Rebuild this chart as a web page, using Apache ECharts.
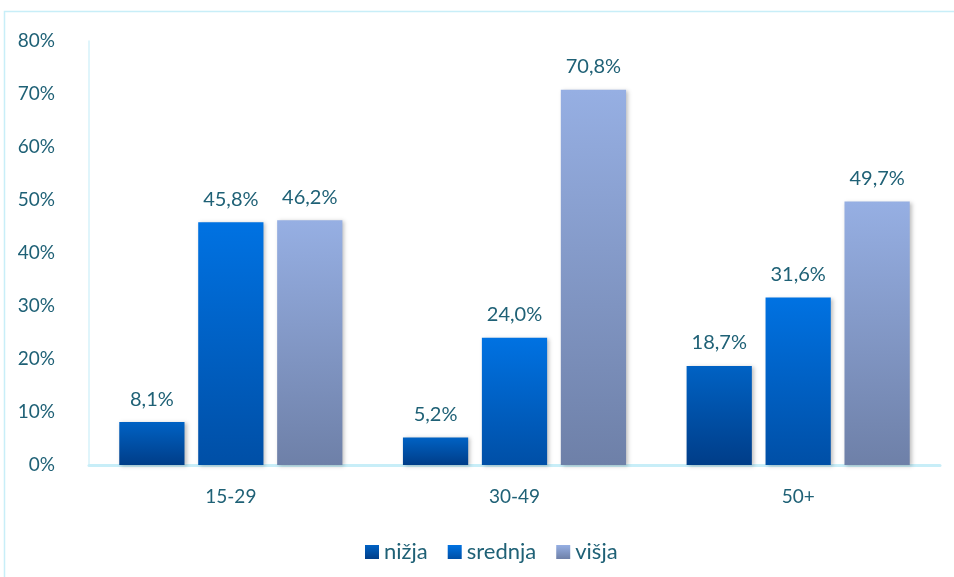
<!DOCTYPE html>
<html>
<head>
  <meta charset="utf-8">
  <title>Obrazovanje po dobnim skupinama</title>
  <script src="https://cdn.jsdelivr.net/npm/echarts@6/dist/echarts.min.js"></script>
  <style>
    html, body { margin: 0; padding: 0; background: #fff; }
  </style>
</head>
<body>
  <div id="chart" style="width: 954px; height: 577px;"></div>

  <script>
    // Data
    const categories = ['15-29', '30-49', '50+'];
    const seriesNames = ['nižja', 'srednja', 'višja'];
    const nizja = [8.1, 5.2, 18.7];
    const srednja = [45.8, 24.0, 31.6];
    const visja = [46.2, 70.8, 49.7];

    const textColor = '#1f6176';
    const fontFamily = 'Lato, "Open Sans", sans-serif';

    function grad(top, bottom) {
      return new echarts.graphic.LinearGradient(0, 0, 0, 1, [
        { offset: 0, color: top },
        { offset: 1, color: bottom }
      ]);
    }

    const colors = [
      grad('#0062c4', '#003d88'),
      grad('#0072e2', '#004fa6'),
      grad('#96afe3', '#6e80a8')
    ];

    function barSeries(name, data, i) {
      return {
        name: name,
        type: 'bar',
        data: data,
        barWidth: '23%',
        barGap: '21%',
        itemStyle: {
          color: colors[i],
          shadowColor: 'rgba(0,0,0,0.25)',
          shadowBlur: 4,
          shadowOffsetX: 2,
          shadowOffsetY: 1
        },
        label: {
          show: true,
          position: 'top',
          distance: 13,
          color: textColor,
          fontSize: 20,
          fontFamily: fontFamily,
          formatter: p => p.value.toFixed(1).replace('.', ',') + '%'
        }
      };
    }

    const chart = echarts.init(document.getElementById('chart'));

    chart.setOption({
      animation: false,
      graphic: [{
        type: 'rect',
        shape: { x: 4.5, y: 11.5, width: 960, height: 580 },
        style: { fill: 'none', stroke: '#c8eef8', lineWidth: 1.5 },
        silent: true
      }],
      grid: { left: 89, right: 14, top: 41, bottom: 112 },
      legend: {
        top: 536,
        left: 360,
        itemWidth: 14,
        itemHeight: 14,
        itemGap: 20,
        icon: 'rect',
        textStyle: { color: textColor, fontSize: 22, fontFamily: fontFamily },
        data: seriesNames.map((n, i) => ({ name: n, itemStyle: { color: colors[i], shadowBlur: 0 } }))
      },
      xAxis: {
        type: 'category',
        data: categories,
        axisLine: { lineStyle: { color: '#c8eef8', width: 3 } },
        axisTick: { show: false },
        axisLabel: { color: textColor, fontSize: 19, fontFamily: fontFamily, margin: 22 }
      },
      yAxis: {
        type: 'value',
        min: 0,
        max: 80,
        interval: 10,
        axisLine: { show: true, lineStyle: { color: '#d6f2fa', width: 1.5 } },
        axisTick: { show: false },
        splitLine: { show: false },
        axisLabel: {
          color: textColor,
          fontSize: 19,
          fontFamily: fontFamily,
          margin: 34,
          formatter: '{value}%'
        }
      },
      series: [
        barSeries(seriesNames[0], nizja, 0),
        barSeries(seriesNames[1], srednja, 1),
        barSeries(seriesNames[2], visja, 2)
      ]
    });
  </script>
</body>
</html>
